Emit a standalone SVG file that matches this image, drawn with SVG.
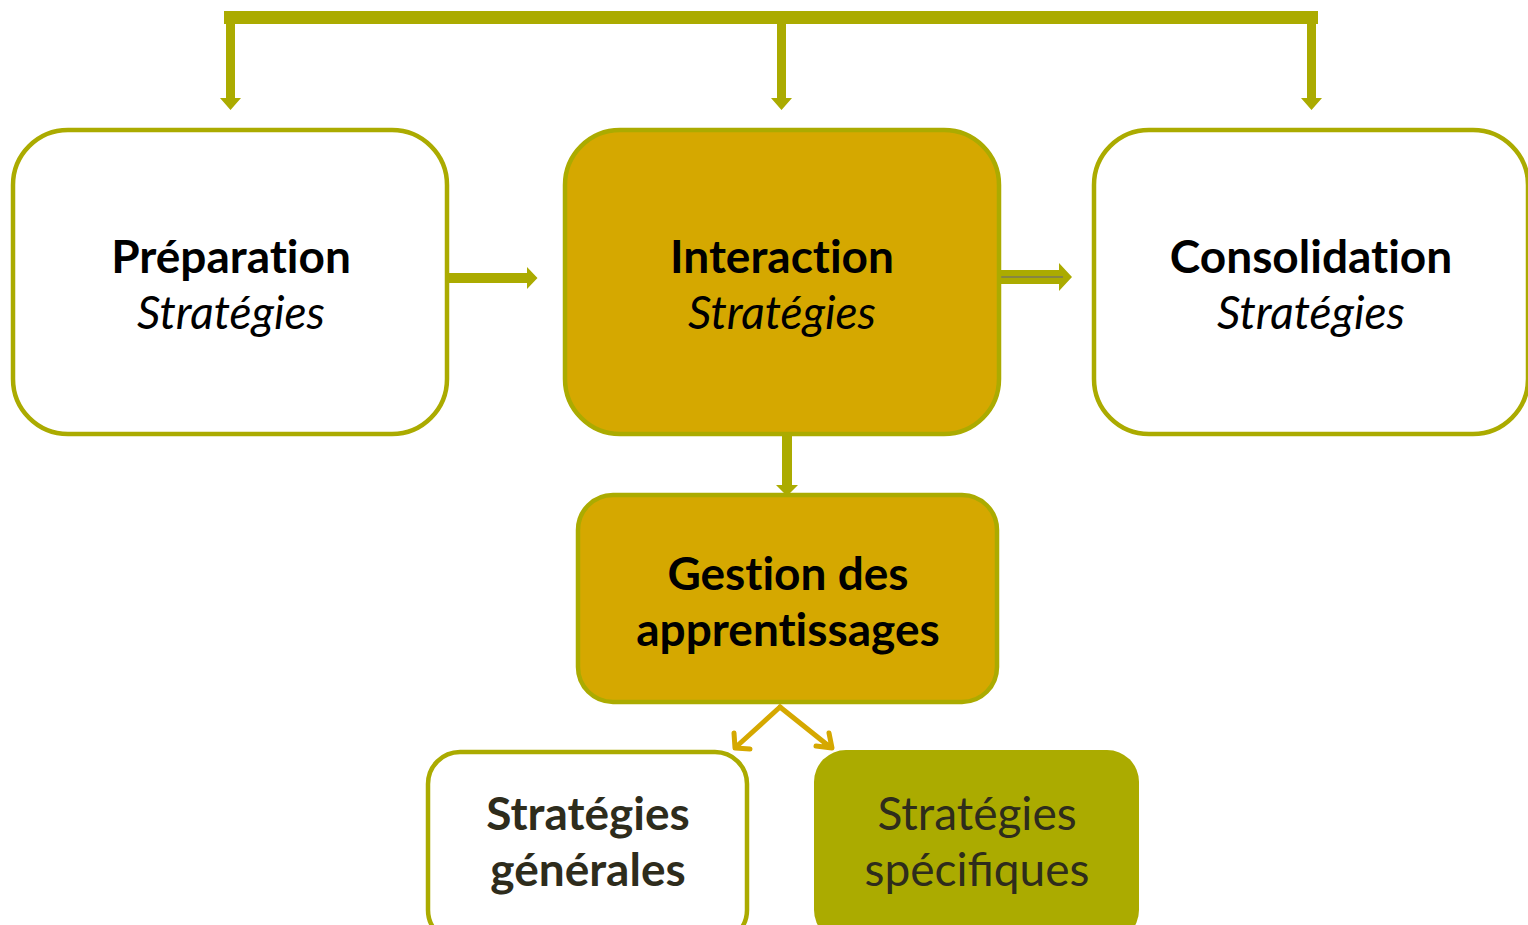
<svg xmlns="http://www.w3.org/2000/svg" width="1528" height="925" viewBox="0 0 1528 925">
<style>
.box{stroke:#ABAB00;stroke-width:4.5}
.w{fill:#fff}
.g{fill:#D5A800}
.o{fill:#ABAB00}
.t{font-family:Lato,"Open Sans",sans-serif;font-size:46px;text-anchor:middle;fill:#000;font-variant-ligatures:none}
.b{font-weight:bold}
.i{font-style:italic}
.d{fill:#2e2c1c}
.lig{font-variant-ligatures:common-ligatures}
.conn{fill:#ABAB00}
.gl{stroke:#D5A800;stroke-width:5;fill:none;stroke-linecap:round;stroke-linejoin:round}
</style>
<rect width="1528" height="925" fill="#fff"/>
<g id="connectors">
  <rect class="conn" x="224" y="11" width="1094" height="13"/>
  <path class="conn" d="M226,24 h9 v74 h6 l-10.5,12 l-10.5,-12 h6 z"/>
  <path class="conn" d="M777,24 h9 v74 h6 l-10.5,12 l-10.5,-12 h6 z"/>
  <path class="conn" d="M1307,24 h9 v74 h6 l-10.5,12 l-10.5,-12 h6 z"/>
  <path class="conn" d="M449,273 h78 v-6 l10.5,11 l-10.5,11 v-6 h-78 z"/>
  <path class="conn" d="M1001,270 h58 v-7 l13,14 l-13,14 v-7 h-58 z"/>
  <line x1="1001" y1="277" x2="1063" y2="277" stroke="#7a7a5a" stroke-width="1.5"/>
  <path class="conn" d="M782,436 h10 v49 h6 l-11,11 l-11,-11 h6 z"/>
  <path class="gl" d="M780,707 L736,747 M734,733 L735,748 L750,749"/>
  <path class="gl" d="M780,707 L830,747 M816,746 L832,748 L829,733"/>
</g>
<g id="preparation">
  <rect class="box w" x="13" y="130" width="434" height="304" rx="55"/>
  <text class="t b" x="231" y="273">Préparation</text>
  <text class="t i" x="231" y="329">Stratégies</text>
</g>
<g id="interaction">
  <rect class="box g" x="565" y="130" width="434" height="304" rx="55"/>
  <text class="t b" x="782" y="273">Interaction</text>
  <text class="t i" x="782" y="329">Stratégies</text>
</g>
<g id="consolidation">
  <rect class="box w" x="1094" y="130" width="434" height="304" rx="55"/>
  <text class="t b" x="1311" y="273">Consolidation</text>
  <text class="t i" x="1311" y="329">Stratégies</text>
</g>
<g id="gestion">
  <rect class="box g" x="578" y="495" width="419" height="207" rx="35"/>
  <text class="t b" x="788" y="590">Gestion des</text>
  <text class="t b" x="788" y="646">apprentissages</text>
</g>
<g id="generales">
  <rect class="box w" x="428" y="752" width="319" height="190" rx="32"/>
  <text class="t b d" x="588" y="830">Stratégies</text>
  <text class="t b d" x="588" y="886">générales</text>
</g>
<g id="specifiques">
  <rect class="o" x="814" y="750" width="325" height="192" rx="32"/>
  <text class="t d" x="977" y="830">Stratégies</text>
  <text class="t d lig" x="977" y="886">spécifiques</text>
</g>
</svg>
